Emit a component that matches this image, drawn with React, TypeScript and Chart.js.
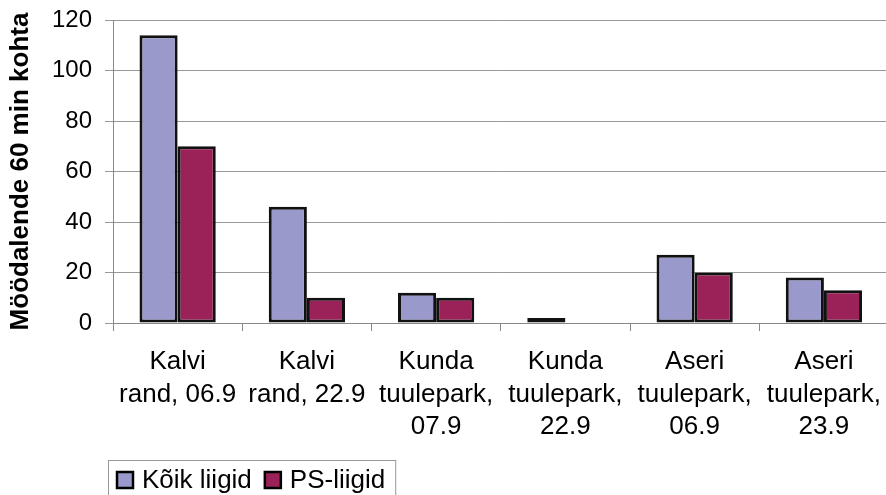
import React, { useEffect, useRef } from "react";
import { Chart, registerables } from "chart.js";

Chart.register(...registerables);

const categories: string[][] = [
  ["Kalvi", "rand, 06.9"],
  ["Kalvi", "rand, 22.9"],
  ["Kunda", "tuulepark,", "07.9"],
  ["Kunda", "tuulepark,", "22.9"],
  ["Aseri", "tuulepark,", "06.9"],
  ["Aseri", "tuulepark,", "23.9"],
];
const koikLiigid: number[] = [114, 46, 12, 2, 27, 18];
const psLiigid: number[] = [70, 10, 10, 0, 20, 13];
const seriesNames: string[] = ["Kõik liigid", "PS-liigid"];
const yAxisTitle = "Möödalende 60 min kohta";
const yMin = 0;
const yMax = 120;
const yStep = 20;

const FONT = "'Liberation Sans', Arial, Helvetica, sans-serif";

const boxLegend = {
  id: "boxLegend",
  afterDraw(chart: any) {
    const ctx = chart.ctx;
    const area = chart.chartArea;
    const left = area.left - 5;
    const top = chart.height - 35;
    const midY = top + 20;
    ctx.save();
    ctx.font = `26px ${FONT}`;
    ctx.textBaseline = "middle";
    ctx.textAlign = "left";
    let x = left + 9;
    chart.data.datasets.forEach((ds: any, i: number) => {
      ctx.fillStyle = ds.backgroundColor;
      ctx.fillRect(x, midY - 8, 16, 16);
      ctx.lineWidth = 2.5;
      ctx.strokeStyle = "#000";
      ctx.strokeRect(x, midY - 8, 16, 16);
      const tx = x + 25;
      ctx.fillStyle = "#000";
      ctx.fillText(ds.label, tx, midY + 1);
      const w = ctx.measureText(ds.label).width;
      x = tx + w + (i < chart.data.datasets.length - 1 ? 13 : 0);
    });
    const right = x + 10;
    ctx.lineWidth = 1;
    ctx.strokeStyle = "#999";
    ctx.strokeRect(left + 0.5, top + 0.5, right - left, 60);
    ctx.restore();
  },
};

export default function App() {
  const ref = useRef<HTMLCanvasElement>(null);
  useEffect(() => {
    if (!ref.current) return;
    const chart = new Chart(ref.current, {
      type: "bar",
      data: {
        labels: categories,
        datasets: [
          {
            label: seriesNames[0],
            data: koikLiigid,
            backgroundColor: "#9999CC",
            borderColor: "#111",
            borderWidth: 3,
            borderSkipped: false,
          },
          {
            label: seriesNames[1],
            data: psLiigid,
            backgroundColor: "#9B2259",
            borderColor: "#111",
            borderWidth: 3,
            borderSkipped: false,
          },
        ],
      },
      options: {
        animation: false,
        responsive: false,
        layout: { padding: { top: 2, left: 0, right: 0, bottom: 0 } },
        datasets: {
          bar: { categoryPercentage: 0.59, barPercentage: 1 },
        },
        plugins: {
          legend: { display: false },
          tooltip: { enabled: false },
        },
        scales: {
          x: {
            offset: true,
            grid: {
              offset: true,
              drawOnChartArea: false,
              drawTicks: true,
              tickLength: 8,
              color: "#888",
            },
            border: { color: "#888", width: 1 },
            ticks: {
              color: "#000",
              font: { family: FONT, size: 26, lineHeight: 1.25 },
              padding: 15,
              maxRotation: 0,
              autoSkip: false,
            },
            afterFit(scale: any) {
              scale.height = 172;
            },
          },
          y: {
            min: yMin,
            max: yMax,
            ticks: {
              stepSize: yStep,
              color: "#000",
              font: { family: FONT, size: 24 },
              padding: 13,
            },
            grid: { color: "#999", tickLength: 8, lineWidth: 1 },
            border: { color: "#888", width: 1 },
            title: {
              display: true,
              text: yAxisTitle,
              color: "#000",
              font: { family: FONT, size: 26, weight: "bold" },
              padding: { top: 5, bottom: 0 },
            },
            afterFit(scale: any) {
              scale.width = 113;
              scale.paddingTop = 20;
              scale.paddingBottom = 0;
            },
          },
        },
      },
      plugins: [boxLegend],
    });
    return () => chart.destroy();
  }, []);
  return (
    <div
      style={{
        position: "fixed",
        left: 0,
        top: 0,
        width: 886,
        height: 495,
        overflow: "hidden",
        background: "#fff",
      }}
    >
      <canvas ref={ref} width={896} height={495} style={{ display: "block" }} />
    </div>
  );
}
